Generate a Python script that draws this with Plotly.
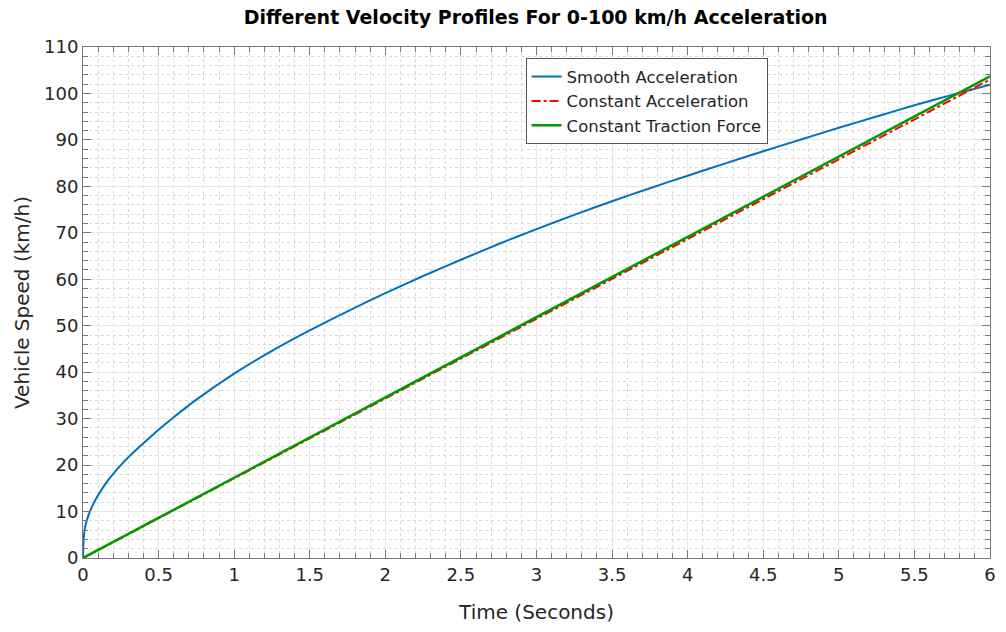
import plotly.graph_objects as go

# Smooth acceleration profile
t_smooth = [0, 0.005, 0.015, 0.033, 0.066, 0.1, 0.165, 0.25, 0.3, 0.4, 0.5, 0.6, 0.75,
            1.0, 1.25, 1.5, 1.75, 2.0, 2.25, 2.5, 2.75, 3.0, 3.25, 3.5, 3.75, 4.0,
            4.25, 4.5, 4.75, 5.0, 5.25, 5.5, 5.75, 6.0]
v_smooth = [0, 4.3, 6.8, 8.9, 11.5, 13.5, 16.7, 20.0, 21.7, 24.7, 27.6, 30.3, 34.1,
            39.7, 44.6, 49.0, 53.1, 57.0, 60.7, 64.2, 67.6, 70.8, 73.85, 76.8, 79.6, 82.3,
            84.95, 87.55, 90.1, 92.6, 95.05, 97.45, 99.7, 101.9]

# Constant acceleration profile
t_const_acc = [0, 6.0]
v_const_acc = [0, 103.0]

# Constant traction force profile
t_const_force = [0, 6.0]
v_const_force = [0, 103.7]

FONT = "DejaVu Sans, Liberation Sans, Arial, sans-serif"
AXIS_COLOR = "#7a7a7a"
TEXT_COLOR = "#262626"

fig = go.Figure()
fig.add_trace(go.Scatter(x=t_smooth, y=v_smooth, mode="lines", name="Smooth Acceleration",
                         line=dict(color="#0072BD", width=2, shape="spline", smoothing=0.8)))
fig.add_trace(go.Scatter(x=t_const_acc, y=v_const_acc, mode="lines", name="Constant Acceleration",
                         line=dict(color="#FF0000", width=2, dash="dashdot")))
fig.add_trace(go.Scatter(x=t_const_force, y=v_const_force, mode="lines", name="Constant Traction Force",
                         line=dict(color="#009900", width=2.5)))

common_axis = dict(
    showline=True, linecolor=AXIS_COLOR, linewidth=1, mirror="ticks",
    ticks="inside", ticklen=8, tickcolor=AXIS_COLOR, tickwidth=1,
    showgrid=True, gridcolor="#e6e6e6", gridwidth=1,
    zeroline=False,
    tickfont=dict(family=FONT, size=18, color=TEXT_COLOR),
)

fig.update_xaxes(
    range=[0, 6], tick0=0, dtick=0.5,
    title=dict(text="Time (Seconds)", font=dict(family=FONT, size=20, color=TEXT_COLOR), standoff=21),
    minor=dict(dtick=0.1, ticks="inside", ticklen=5, tickcolor=AXIS_COLOR,
               showgrid=True, gridcolor="#d9d9d9", griddash="dot", gridwidth=1),
    **common_axis,
)
fig.update_yaxes(
    range=[0, 110], tick0=0, dtick=10,
    title=dict(text="Vehicle Speed (km/h)", font=dict(family=FONT, size=20, color=TEXT_COLOR), standoff=9),
    minor=dict(dtick=2, ticks="inside", ticklen=5, tickcolor=AXIS_COLOR,
               showgrid=True, gridcolor="#d9d9d9", griddash="dot", gridwidth=1),
    **common_axis,
)

fig.update_layout(
    width=1006, height=632,
    margin=dict(l=83, r=10, t=47, b=74),
    paper_bgcolor="white", plot_bgcolor="white",
    title=dict(text="<b>Different Velocity Profiles For 0-100 km/h Acceleration</b>",
               x=0.5325, xanchor="center", y=0.972, yanchor="middle",
               font=dict(family=FONT, size=19, color="#000000")),
    legend=dict(x=0.488, y=0.978, xanchor="left", yanchor="top",
                bgcolor="white", bordercolor="#555555", borderwidth=1,
                font=dict(family=FONT, size=16.5, color=TEXT_COLOR),
                tracegroupgap=0, itemwidth=30),
    showlegend=True,
)

fig.write_html("out.html")
